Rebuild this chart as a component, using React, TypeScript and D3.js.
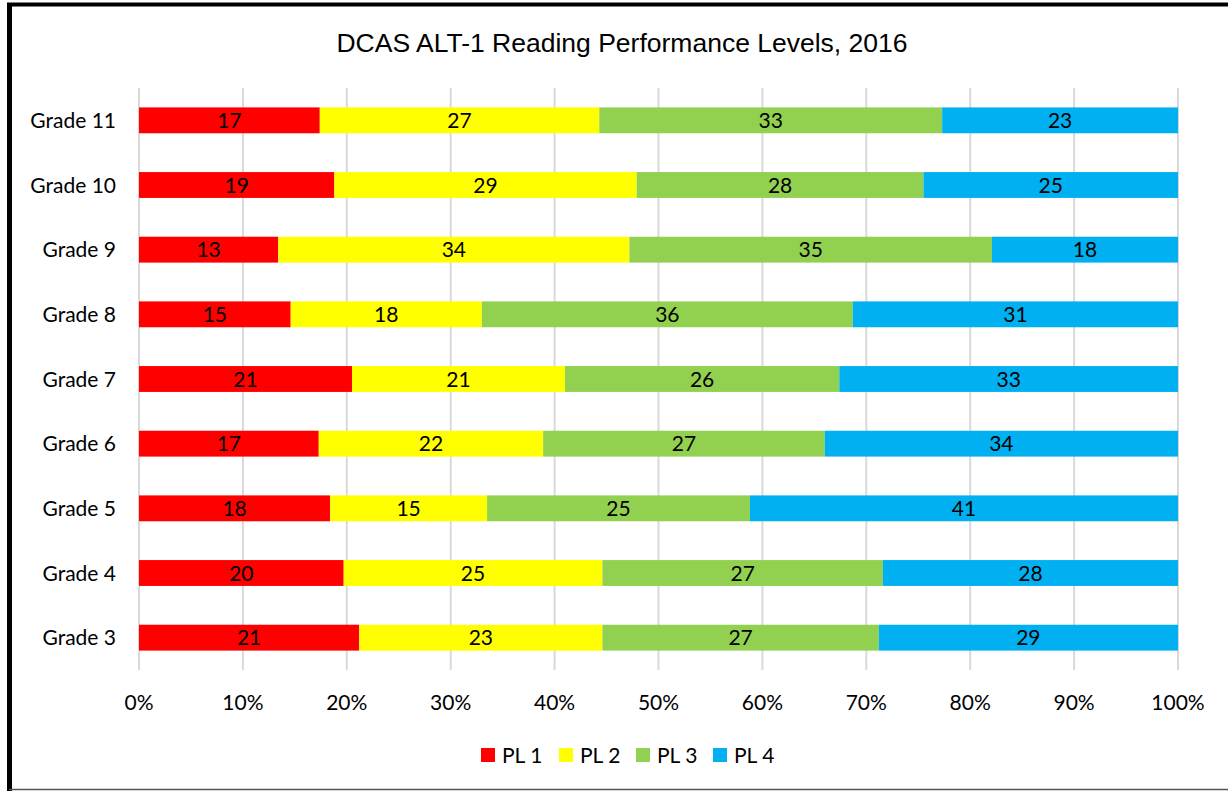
import React from "react";
import * as d3 from "d3";

const grades = ["Grade 11", "Grade 10", "Grade 9", "Grade 8", "Grade 7", "Grade 6", "Grade 5", "Grade 4", "Grade 3"];
const seriesNames = ["PL 1", "PL 2", "PL 3", "PL 4"];
const pl1 = [17.4, 18.8, 13.4, 14.6, 20.5, 17.3, 18.4, 19.7, 21.2];
const pl2 = [26.9, 29.1, 33.8, 18.4, 20.5, 21.6, 15.1, 24.9, 23.4];
const pl3 = [33.0, 27.6, 34.9, 35.7, 26.4, 27.1, 25.3, 27.0, 26.6];
const pl4 = [22.7, 24.5, 17.9, 31.3, 32.6, 34.0, 41.2, 28.4, 28.8];
const colors = ["#FF0000", "#FFFF00", "#92D050", "#00B0F0"];
const xTicks = [0, 0.1, 0.2, 0.3, 0.4, 0.5, 0.6, 0.7, 0.8, 0.9, 1.0];
const title = "DCAS ALT-1 Reading Performance Levels, 2016";

const W = 1228;
const H = 791;
const left = 139;
const right = 1178;
const top = 88;
const bottom = 670;
const labelFont = "Lato, 'Open Sans', sans-serif";
const fs = 21;

export default function App() {
  const rows = grades.map((g, i) => {
    const vals = [pl1[i], pl2[i], pl3[i], pl4[i]];
    const sum = d3.sum(vals);
    const obj: any = { grade: g };
    seriesNames.forEach((s, k) => {
      obj[s] = vals[k] / sum;
      obj[s + "_label"] = Math.round(vals[k]);
    });
    return obj;
  });
  const stack = d3.stack().keys(seriesNames)(rows as any);
  const x = d3.scaleLinear().domain([0, 1]).range([left, right]);
  const y = d3.scaleBand().domain(grades).range([top, bottom]).paddingInner(0.6).paddingOuter(0.3);
  const fmt = d3.format(".0%");

  const legendX = [481, 559, 636, 713];

  return (
    <svg width={W} height={H} style={{ position: "absolute", left: 0, top: 0, background: "#fff" }}>
      <rect x={0} y={0} width={W} height={H} fill="#fff" />
      <line x1={7} x2={W} y1={4.5} y2={4.5} stroke="#000" strokeWidth={4} />
      <line x1={9.5} x2={9.5} y1={3} y2={H} stroke="#000" strokeWidth={5} />
      <line x1={9} x2={W} y1={789.5} y2={789.5} stroke="#555" strokeWidth={1.5} />
      <text x={622} y={52} textAnchor="middle" fontFamily="'Liberation Sans', Arial, sans-serif" fontSize={26.5} fill="#000">
        {title}
      </text>
      {xTicks.map((t) => (
        <line key={t} x1={x(t)} x2={x(t)} y1={top} y2={bottom} stroke="#d9d9d9" strokeWidth={2} />
      ))}
      {stack.map((s, k) => (
        <g key={s.key}>
          {s.map((d: any, i) => (
            <g key={i}>
              <rect x={x(d[0])} y={y(d.data.grade)} width={x(d[1]) - x(d[0])} height={y.bandwidth()} fill={colors[k]} />
              <text
                x={(x(d[0]) + x(d[1])) / 2}
                y={(y(d.data.grade) as number) + y.bandwidth() / 2}
                dy="0.36em"
                textAnchor="middle"
                fontFamily={labelFont}
                fontSize={fs}
                fill="#000"
              >
                {d.data[s.key + "_label"]}
              </text>
            </g>
          ))}
        </g>
      ))}
      {grades.map((g) => (
        <text
          key={g}
          x={116}
          y={(y(g) as number) + y.bandwidth() / 2}
          dy="0.36em"
          textAnchor="end"
          fontFamily={labelFont}
          fontSize={fs}
          fill="#000"
        >
          {g}
        </text>
      ))}
      {xTicks.map((t) => (
        <text key={t} x={x(t)} y={702} dy="0.36em" textAnchor="middle" fontFamily={labelFont} fontSize={fs} fill="#000">
          {fmt(t)}
        </text>
      ))}
      {seriesNames.map((s, k) => (
        <g key={s}>
          <rect x={legendX[k]} y={748} width={14} height={14} fill={colors[k]} />
          <text x={legendX[k] + 21} y={755} dy="0.36em" fontFamily={labelFont} fontSize={fs} fill="#000">
            {s}
          </text>
        </g>
      ))}
    </svg>
  );
}
